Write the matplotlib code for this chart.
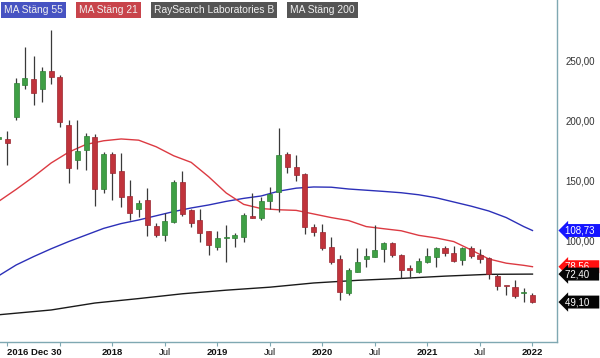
import matplotlib
matplotlib.use("Agg")
import matplotlib.pyplot as plt
import numpy as np

# --- DATA: monthly candles, index 0 = "2016 Dec 30" ---
candle_idx = list(range(-1, 61))
opens = [185, 185, 203.6, 230, 235, 227, 242, 237, 197, 167.5, 176, 187, 143, 172.5, 158.5, 137.5,
         126.5, 134, 112.5, 105, 116, 149.4, 125.8, 117.5, 108.3, 95.3, 102.5, 102.8, 103.6, 121, 119,
         133.6, 141, 172.5, 162, 155.8, 112, 107.8, 95.3, 84.7, 56.4, 74.4, 84.7, 87, 93, 98,
         88.3, 77.2, 74.4, 82.8, 87, 94.4, 89.7, 84.2, 94, 88.3, 85.6, 70.8, 62.8, 61.4, 56.4, 55]
highs = [188, 192, 236, 262, 254, 245, 276, 238, 201, 201, 190, 189, 174, 174, 173, 151,
         134, 144, 115, 123, 151, 158.6, 127, 127, 108.5, 108.6, 113.3, 106.4, 123, 139.7, 136.4,
         145.3, 194, 174.4, 171.7, 156.4, 114.2, 114.2, 103, 88.3, 77.2, 93.9, 94, 113.3, 99.4, 99.4,
         89.2, 80, 85.6, 94, 95.3, 95.8, 95.8, 95.3, 95.8, 93, 87, 72.5, 62.8, 67.5, 60.6, 57]
lows = [184, 163, 201, 227, 213, 216, 231, 195, 148, 160, 159, 129, 140, 134, 128, 117.5,
        120, 104, 103.5, 100, 114.7, 121, 112, 99.4, 88, 92.5, 82.8, 95.3, 99.4, 119.4, 117.5,
        126.4, 124.4, 156.4, 150.3, 105.8, 104.2, 92.5, 80.8, 50.8, 55, 74, 78.6, 87, 82.8, 87,
        69, 69, 73.6, 81.4, 78.6, 87.5, 82.8, 80, 85.6, 82, 68, 59.2, 55, 52.2, 49.4, 48.6]
closes = [187, 182, 231.4, 236, 223, 241.5, 237, 199, 161, 175, 187.5, 143, 172.5, 157, 136.5, 123.5,
          132, 113, 105, 116.7, 149.4, 122.2, 115.3, 106.4, 96.7, 102.2, 103, 105, 121.7, 119.5, 133.6,
          139.2, 171.7, 161.4, 155, 111.4, 107.8, 93.9, 82.8, 57.8, 75.8, 82.8, 87.5, 92.5, 98, 88.3,
          75.8, 75.8, 83.6, 87.5, 94, 89.7, 83.6, 93.9, 87.5, 84.7, 72.5, 62.5, 62.2, 54.2, 57.8, 49.1]

# moving averages (index, value)
ma21_idx = [-1, 1, 3, 5, 7, 9, 11, 13, 15, 17, 19, 21, 23, 25, 27, 29, 31, 33, 35, 37, 39,
            41, 43, 45, 47, 49, 51, 53, 55, 57, 59, 60]
ma21_val = [133, 143, 153.6, 165, 174, 180.5, 183.5, 185, 184, 178.5, 171, 165.5, 153.5, 140, 130.5,
            127, 126, 125.5, 122.5, 119.5, 117, 112, 110.2, 108.5, 104.7, 102.5, 99.5, 92.5, 85,
            81.5, 79.7, 78.56]
ma55_idx = [-1, 1, 3, 5, 7, 9, 11, 13, 15, 17, 19, 21, 23, 25, 27, 29, 31, 33, 35, 37, 39,
            41, 43, 45, 47, 49, 51, 53, 55, 57, 59, 60]
ma55_val = [71, 80, 87, 93.5, 99.5, 105, 110.5, 114.5, 117.5, 121, 124.5, 127.5, 130, 133, 135.5,
            137.5, 141.5, 144, 145, 144.8, 143.3, 142.3, 141.3, 140.2, 138.5, 136, 132.5, 129, 125,
            119.5, 112, 108.73]
ma200_idx = [-1, 5, 10, 15, 20, 25, 30, 35, 40, 45, 50, 55, 60]
ma200_val = [38.5, 42.5, 48.3, 52, 56, 59, 61.5, 65, 67.2, 68.8, 70.7, 72.2, 72.4]

tick_idx = [0, 6, 12, 18, 24, 30, 36, 42, 48, 54, 60]
tick_labels = ["2016 Dec 30", "", "2018", "Jul", "2019", "Jul", "2020", "Jul", "2021", "Jul", "2022"]
price_ticks = [100, 150, 200, 250]
tag_values = [108.73, 78.56, 72.40, 49.10]
tag_colors = ["#1515ff", "#ff1010", "#050505", "#050505"]
legend_names = ["MA Stäng 55", "MA Stäng 21", "RaySearch Laboratories B", "MA Stäng 200"]
legend_colors = ["#4753c2", "#c8444b", "#555555", "#555555"]

plt.rcParams["font.family"] = ["Liberation Sans", "DejaVu Sans"]
FRAME = "#7fa8b2"

fig = plt.figure(figsize=(6, 3.58), dpi=100)
ax = fig.add_axes([0, 0.0433, 0.9283, 0.9567])
ax.set_xlim(-0.846, 62.8)
ax.set_ylim(15.4, 300.8)

# --- MA LINES ---
ax.plot(ma200_idx, ma200_val, color="#1a1a1a", lw=1.0, zorder=2)
ax.plot(ma55_idx, ma55_val, color="#2c30b8", lw=1.0, zorder=2)
ax.plot(ma21_idx, ma21_val, color="#dc3a42", lw=1.0, zorder=2)

# --- CANDLES ---
o = np.array(opens)
c = np.array(closes)
up = c >= o
body_col = np.where(up, "#3f9f45", "#c0333b")
edge_col = np.where(up, "#2f7f35", "#9a2630")
ax.vlines(candle_idx, lows, highs, color="#3a3a3a", lw=0.9, zorder=3)
bottoms = np.minimum(o, c)
heights = np.maximum(np.abs(c - o), 0.9)
ax.bar(candle_idx, heights, bottom=bottoms, width=0.58, color=body_col,
       edgecolor=edge_col, linewidth=0.5, zorder=4)

# --- AXES STYLE ---
for side in ["left", "top"]:
    ax.spines[side].set_visible(False)
for side in ["right", "bottom"]:
    ax.spines[side].set_color(FRAME)
    ax.spines[side].set_linewidth(1.0)

ax.set_xticks(tick_idx)
ax.set_xticklabels(tick_labels)
ax.tick_params(axis="x", direction="out", length=3, color=FRAME, pad=1, labelsize=6.8,
               labelcolor="#111111")
for lbl, txt in zip(ax.get_xticklabels(), tick_labels):
    if txt != "Jul":
        lbl.set_fontweight("bold")
ax.get_xticklabels()[0].set_horizontalalignment("left")

ax.yaxis.tick_right()
ax.set_yticks(price_ticks)
ax.set_yticklabels([f"{v:.2f}".replace(".", ",") for v in price_ticks])
ax.tick_params(axis="y", length=0, pad=6, labelsize=7, labelcolor="#333333")

# --- PRICE TAGS ON THE RIGHT ---
for v, col in zip(tag_values, tag_colors):
    ax.annotate(f"{v:.2f}".replace(".", ",") + "   ", xy=(1.0, v), xycoords=("axes fraction", "data"),
                xytext=(6, 0), textcoords="offset points", ha="left", va="center",
                fontsize=7, color="white", annotation_clip=False, zorder=10,
                bbox=dict(boxstyle="larrow,pad=0.15", fc=col, ec="none"))

# --- LEGEND BOXES ---
x = 4
for name, col in zip(legend_names, legend_colors):
    t = fig.text(x / 600, 1 - 10 / 358, name, ha="left", va="center", fontsize=7.4,
                 color="#f0f0f0", bbox=dict(boxstyle="square,pad=0.3", fc=col, ec="none"))
    fig.canvas.draw()
    bb = t.get_window_extent()
    x = bb.x1 + 16

fig.savefig("out.png", dpi=100)
